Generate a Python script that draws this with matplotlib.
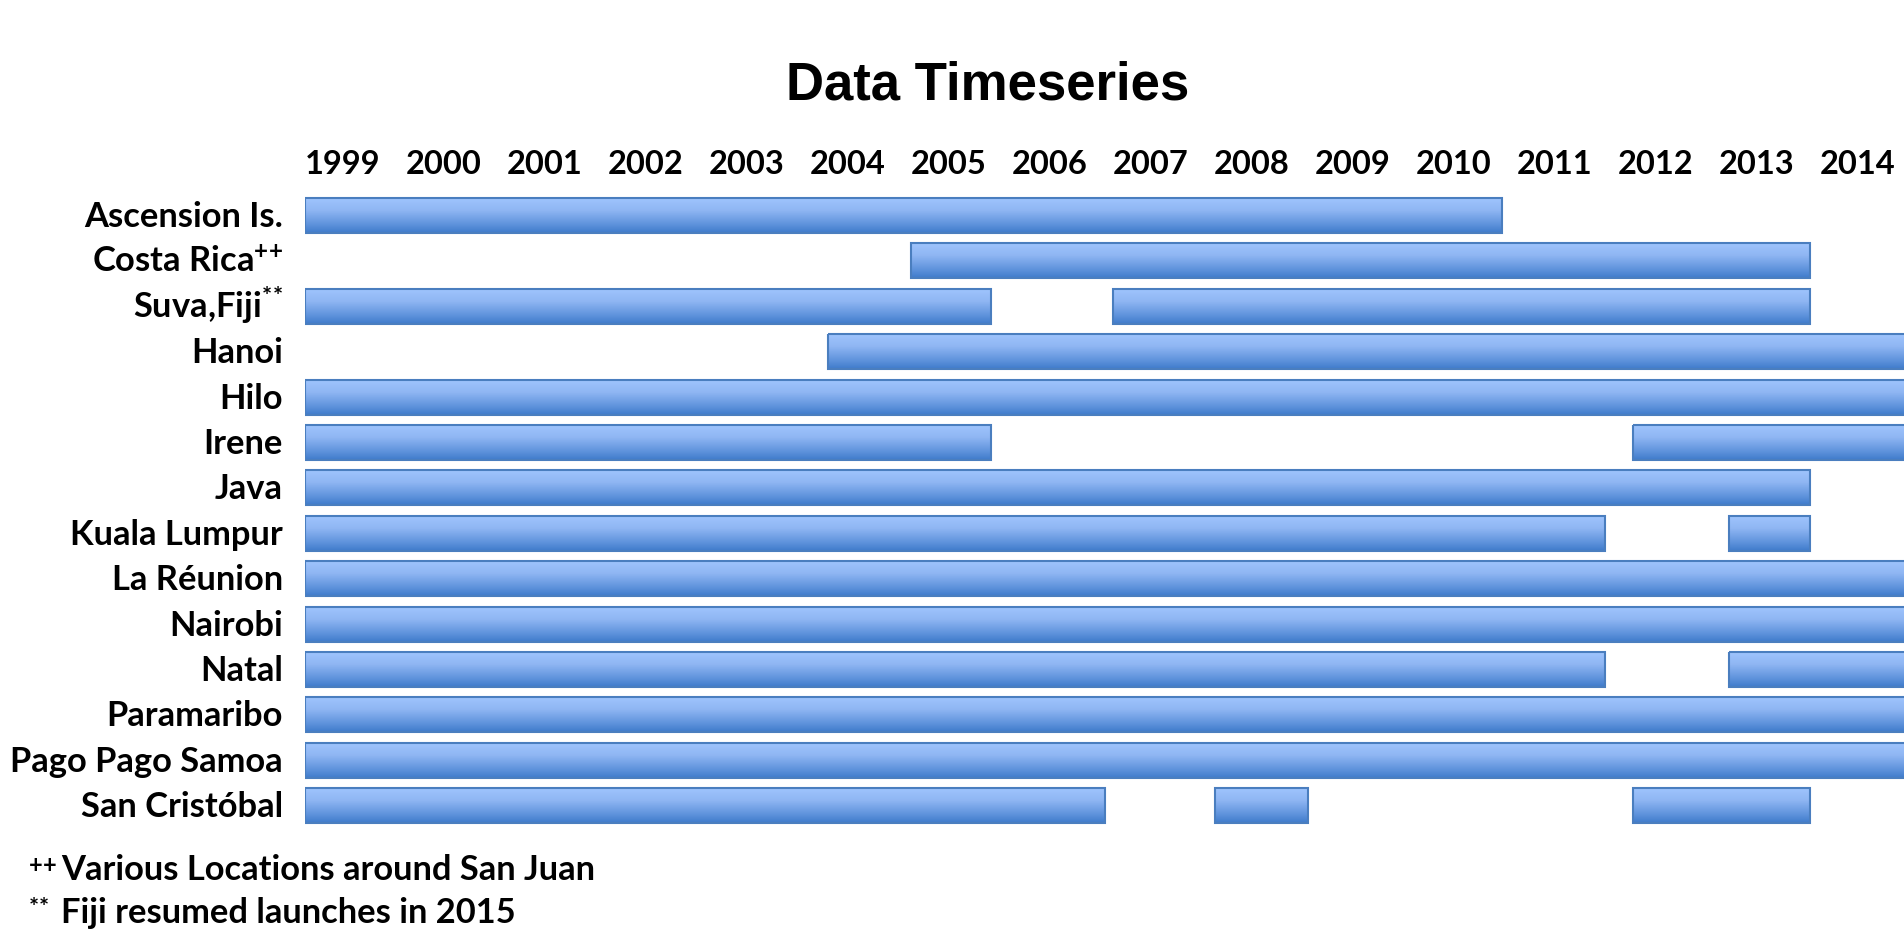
import numpy as np
import matplotlib
matplotlib.use("Agg")
import matplotlib.pyplot as plt
import matplotlib.transforms as mtransforms
from matplotlib.colors import LinearSegmentedColormap

# Station names, footnote markers and observation periods (decimal years)
row_names = ["Ascension Is.", "Costa Rica", "Suva,Fiji", "Hanoi", "Hilo", "Irene",
             "Java", "Kuala Lumpur", "La Réunion", "Nairobi", "Natal",
             "Paramaribo", "Pago Pago Samoa", "San Cristóbal"]
row_marks = ["", "++", "**", "", "", "", "", "", "", "", "", "", "", ""]

period_starts = [
    [1999.0],
    [2005.0],
    [1999.0, 2007.0],
    [2004.18],
    [1999.0],
    [1999.0, 2012.15],
    [1999.0],
    [1999.0, 2013.1],
    [1999.0],
    [1999.0],
    [1999.0, 2013.1],
    [1999.0],
    [1999.0],
    [1999.0, 2008.01, 2012.15],
]
period_ends = [
    [2010.85],
    [2013.9],
    [2005.79, 2013.9],
    [2015.5],
    [2015.5],
    [2005.79, 2015.5],
    [2013.9],
    [2011.87, 2013.9],
    [2015.5],
    [2015.5],
    [2011.87, 2015.5],
    [2015.5],
    [2015.5],
    [2006.92, 2008.93, 2013.9],
]

years = list(range(1999, 2015))
footnotes = [("++", "Various Locations around San Juan"),
             ("**", "Fiji resumed launches in 2015")]
title = "Data Timeseries"

W, H, DPI = 1904, 950, 100
LABEL_FONT = "Lato"

plt.rcParams["mathtext.fontset"] = "custom"
plt.rcParams["mathtext.rm"] = "Lato:bold"
plt.rcParams["mathtext.bf"] = "Lato:bold"
plt.rcParams["mathtext.it"] = "Lato:bold"


def tight_mark(mark):
    """Superscript marker with the glyphs pulled close together."""
    return r"\!".join(mark)


fig = plt.figure(figsize=(W / DPI, H / DPI), dpi=DPI)

# Plot area: 1999.0 sits at x=305 px, each year is 101 px wide, rows 45.4 px apart
px_year = 101.0
x0_px = 305.0
row_h = 45.4
top_px = 215.5 - row_h / 2
n_rows = len(row_names)
ax_h_px = n_rows * row_h
ax = fig.add_axes([x0_px / W, 1 - (top_px + ax_h_px) / H, 1 - x0_px / W, ax_h_px / H])
for s in ax.spines.values():
    s.set_visible(False)
ax.set_xticks([])
ax.set_yticks([])

grad_cmap = LinearSegmentedColormap.from_list(
    "bar_grad", [(0.0, "#9fc4fd"), (0.35, "#8fb6f3"), (0.75, "#5f93dc"), (1.0, "#3f7bcb")])
grad = np.linspace(0, 1, 256).reshape(-1, 1)

bar_height = 35.0 / row_h
for i in range(n_rows):
    starts = np.array(period_starts[i])
    ends = np.array(period_ends[i])
    bars = ax.barh([i] * len(starts), ends - starts, left=starts, height=bar_height,
                   facecolor="none", edgecolor="#4a7ebf", linewidth=1.5, zorder=3)
    for p in bars.patches:
        x, y, w, h = p.get_x(), p.get_y(), p.get_width(), p.get_height()
        ax.imshow(grad, cmap=grad_cmap, aspect="auto", origin="upper",
                  extent=(x, x + w, y + h, y), interpolation="bilinear", zorder=2)
ax.set_xlim(years[0], years[0] + (W - x0_px) / px_year)
ax.set_ylim(n_rows - 0.5, -0.5)

# Year labels, left-aligned on the start of each year
year_tr = mtransforms.blended_transform_factory(ax.transData, fig.transFigure)
for y in years:
    ax.text(y, 1 - 174.5 / H, str(y), transform=year_tr, ha="left", va="baseline",
            fontsize=23.5, fontweight="bold", family=LABEL_FONT, color="black", clip_on=False)

# Station labels, right-aligned left of the bars
row_tr = mtransforms.blended_transform_factory(fig.transFigure, ax.transData) + \
    mtransforms.ScaledTranslation(0, -11.5 / DPI, fig.dpi_scale_trans)
for i, (name, mark) in enumerate(zip(row_names, row_marks)):
    label = name if not mark else name + r"$^{" + tight_mark(mark) + "}$"
    ax.text(283 / W, i, label, transform=row_tr, ha="right", va="baseline",
            fontsize=24.8, fontweight="bold", family=LABEL_FONT, color="black", clip_on=False)

# Footnotes
for k, (mark, text) in enumerate(footnotes):
    yb = 1 - (880 + k * 43) / H
    fig.text(28 / W, yb + 9 / H, "$" + tight_mark(mark) + "$", ha="left", va="baseline",
             fontsize=17, color="black")
    fig.text(61 / W, yb, text, ha="left", va="baseline", fontsize=24.8,
             fontweight="bold", family=LABEL_FONT, color="black")

fig.text(988 / W, 1 - 100 / H, title, ha="center", va="baseline", fontsize=38,
         fontweight="bold", family="Liberation Sans", color="black")

fig.savefig("out.png", dpi=DPI, facecolor="white")
